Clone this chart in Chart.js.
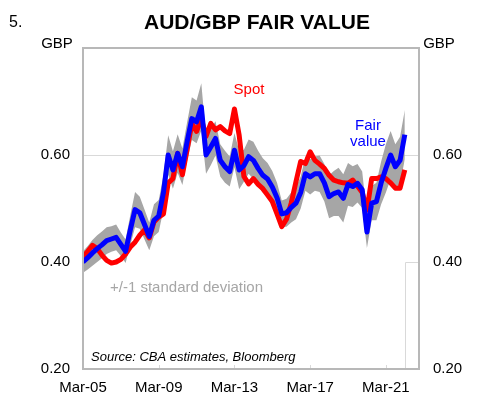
<!DOCTYPE html>
<html>
<head>
<meta charset="utf-8">
<script src="https://cdn.jsdelivr.net/npm/chart.js@4.4.1/dist/chart.umd.min.js"></script>
<style>
  html, body { margin: 0; padding: 0; background: #fff; }
  #wrap { width: 494px; height: 398px; }
</style>
</head>
<body>
<div id="wrap"><canvas id="myChart" width="494" height="398"></canvas></div>
<script>
// quarterly, Mar-05 .. Mar-22 (axis runs on to Dec-22)
const months = ['Mar', 'Jun', 'Sep', 'Dec']
const quarters = []
for (let i = 0; i < 72; i++) {
  let yy = 5 + Math.floor(i / 4)
  quarters.push(months[i % 4] + '-' + (yy < 10 ? '0' + yy : '' + yy))
}

const fairValue = [
  0.400, 0.408, 0.417, 0.425, 0.432, 0.440, 0.443, 0.446, 0.433, 0.420,
  0.460, 0.498, 0.492, 0.470, 0.448, 0.478, 0.486, 0.530, 0.600, 0.572,
  0.603, 0.578, 0.625, 0.668, 0.662, 0.690, 0.600, 0.615, 0.631, 0.590,
  0.578, 0.569, 0.609, 0.572, 0.580, 0.597, 0.590, 0.575, 0.562, 0.555,
  0.540, 0.520, 0.490, 0.492, 0.502, 0.510, 0.530, 0.565, 0.559, 0.565,
  0.565, 0.548, 0.522, 0.528, 0.531, 0.519, 0.545, 0.541, 0.547, 0.535,
  0.456, 0.510, 0.513, 0.548, 0.575, 0.600, 0.578, 0.590, 0.638
]

const spot = [
  0.410, 0.420, 0.431, 0.425, 0.413, 0.403, 0.398, 0.400, 0.405, 0.415,
  0.428, 0.437, 0.450, 0.460, 0.445, 0.475, 0.484, 0.490, 0.548, 0.556,
  0.603, 0.563, 0.610, 0.659, 0.644, 0.668, 0.635, 0.659, 0.647, 0.653,
  0.645, 0.640, 0.686, 0.637, 0.560, 0.546, 0.556, 0.545, 0.537, 0.525,
  0.513, 0.490, 0.466, 0.480, 0.510, 0.550, 0.588, 0.584, 0.606, 0.590,
  0.583, 0.575, 0.562, 0.553, 0.550, 0.548, 0.547, 0.553, 0.542, 0.530,
  0.497, 0.556, 0.556, 0.559, 0.556, 0.548, 0.538, 0.538, 0.572
]

// +/-1 standard deviation around fair value
const stdDev = [
  0.020, 0.022, 0.024, 0.025, 0.025, 0.025, 0.024, 0.024, 0.022, 0.022,
  0.028, 0.033, 0.030, 0.028, 0.026, 0.030, 0.030, 0.032, 0.037, 0.035,
  0.036, 0.034, 0.036, 0.040, 0.040, 0.044, 0.035, 0.034, 0.032, 0.030,
  0.030, 0.028, 0.032, 0.036, 0.030, 0.032, 0.035, 0.033, 0.032, 0.030,
  0.030, 0.028, 0.025, 0.026, 0.028, 0.030, 0.030, 0.032, 0.033, 0.032,
  0.034, 0.035, 0.040, 0.042, 0.045, 0.045, 0.040, 0.038, 0.036, 0.034,
  0.030, 0.032, 0.035, 0.040, 0.045, 0.045, 0.042, 0.044, 0.046
]

const yTicks = [0.20, 0.40, 0.60, 0.80]

const FONT = '"Liberation Sans", Arial, sans-serif'

let bandHi = fairValue.map((v, i) => v + stdDev[i])
let bandLo = fairValue.map((v, i) => v - stdDev[i])

const decor = {
  id: 'decor',
  beforeDatasetsDraw(chart) {
    let ctx = chart.ctx, a = chart.chartArea
    let x = chart.scales.x, y = chart.scales.y
    ctx.save()
    ctx.strokeStyle = '#d9d9d9'
    ctx.lineWidth = 1
    // little tick marks on the bottom
    quarters.forEach((q, i) => {
      if (i % 16 != 0 || i == 0) return
      let px = Math.round(x.getPixelForValue(i)) + 0.5
      ctx.beginPath()
      ctx.moveTo(px, a.bottom)
      ctx.lineTo(px, a.bottom - 4)
      ctx.stroke()
    })
    // edge of the lower box
    let px = Math.round(x.getPixelForValue(68)) + 0.5
    let py = Math.round(y.getPixelForValue(0.40)) + 0.5
    ctx.beginPath()
    ctx.moveTo(px, a.bottom)
    ctx.lineTo(px, py)
    ctx.lineTo(a.right, py)
    ctx.stroke()
    ctx.restore()
  },
  afterDraw(chart) {
    let ctx = chart.ctx, a = chart.chartArea
    ctx.save()
    ctx.strokeStyle = '#b8b8b8'
    ctx.lineWidth = 2
    ctx.strokeRect(a.left, a.top, a.right - a.left, a.bottom - a.top)

    ctx.textBaseline = 'middle'
    ctx.fillStyle = '#000'
    ctx.textAlign = 'left'
    ctx.font = '16px ' + FONT
    ctx.fillText('5.', 9, 23)
    ctx.textAlign = 'center'
    ctx.font = 'bold 21px ' + FONT
    ctx.fillText('AUD/GBP FAIR VALUE', 257, 23)
    ctx.font = '15px ' + FONT
    ctx.fillText('GBP', 57, 44)
    ctx.fillText('GBP', 439, 44)

    ctx.fillStyle = '#ff0000'
    ctx.fillText('Spot', 249, 90)
    ctx.fillStyle = '#0000ff'
    ctx.fillText('Fair', 368, 126)
    ctx.fillText('value', 368, 142)

    ctx.textAlign = 'left'
    ctx.fillStyle = '#a6a6a6'
    ctx.fillText('+/-1 standard deviation', 110, 288)
    ctx.fillStyle = '#000'
    ctx.font = 'italic 13px ' + FONT
    ctx.fillText('Source: CBA estimates, Bloomberg', 91, 357)
    ctx.restore()
  }
}

let tickFmt = (v) => (Math.abs(v - 0.8) < 1e-6 ? '' : v.toFixed(2))

let ctx = document.getElementById('myChart').getContext('2d')
let chart = new Chart(ctx, {
  type: 'line',
  data: {
    labels: quarters,
    datasets: [
      { label: 'Fair value', data: fairValue, borderColor: '#0000ff', borderWidth: 5, clip: 0 },
      { label: 'Spot', data: spot, borderColor: '#ff0000', borderWidth: 5, clip: 0 },
      { label: 'upper', data: bandHi, borderWidth: 0, borderColor: 'rgba(0,0,0,0)',
        backgroundColor: '#a6a6a6', fill: '+1', clip: 0 },
      { label: 'lower', data: bandLo, borderWidth: 0, borderColor: 'rgba(0,0,0,0)', fill: false, clip: 0 }
    ]
  },
  options: {
    responsive: false,
    animation: false,
    events: [],
    elements: {
      point: { radius: 0 },
      line: { tension: 0, borderJoinStyle: 'round', borderCapStyle: 'butt', fill: false }
    },
    layout: { padding: { top: 48, left: 0, right: 0, bottom: 0 } },
    plugins: { legend: { display: false }, tooltip: { enabled: false } },
    scales: {
      x: {
        type: 'category',
        offset: false,
        grid: { display: false, drawTicks: false },
        border: { display: false },
        ticks: {
          autoSkip: false, maxRotation: 0, padding: 10,
          color: '#000', font: { family: FONT, size: 15 },
          callback: (v, i) => (i % 16 == 0 ? quarters[i] : '')
        },
        afterFit: (s) => { s.height = 29 }
      },
      y: {
        position: 'left',
        min: 0.2, max: 0.8,
        afterBuildTicks: (s) => { s.ticks = yTicks.map(v => ({ value: v })) },
        grid: {
          drawTicks: false,
          color: (c) => (c.tick && Math.abs(c.tick.value - 0.6) < 1e-6 ? '#d9d9d9' : 'rgba(0,0,0,0)')
        },
        border: { display: false },
        ticks: { padding: 13, color: '#000', font: { family: FONT, size: 15 }, callback: tickFmt },
        afterFit: (s) => { s.width = 83 }
      },
      y2: {
        position: 'right',
        min: 0.2, max: 0.8,
        afterBuildTicks: (s) => { s.ticks = yTicks.map(v => ({ value: v })) },
        grid: { display: false, drawTicks: false },
        border: { display: false },
        ticks: { padding: 14, color: '#000', font: { family: FONT, size: 15 }, callback: tickFmt },
        afterFit: (s) => { s.width = 75 }
      }
    }
  },
  plugins: [decor]
})
</script>
</body>
</html>
